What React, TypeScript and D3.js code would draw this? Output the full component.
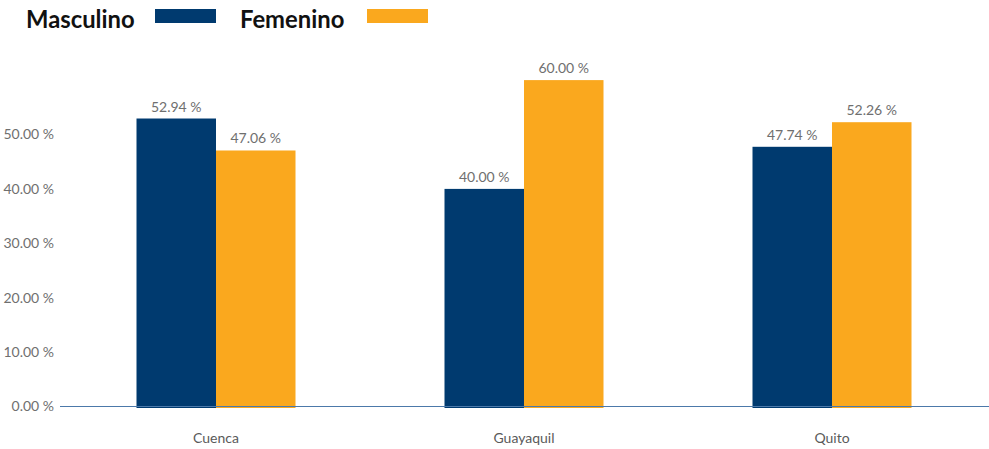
import React from "react";
import * as d3 from "d3";

const categories = ["Cuenca", "Guayaquil", "Quito"];
const series = ["Masculino", "Femenino"];
const masculino = [52.94, 40.0, 47.74];
const femenino = [47.06, 60.0, 52.26];
const yTicks = [0, 10, 20, 30, 40, 50];
const colors = ["#003A6F", "#FAA81E"];

const W = 989;
const H = 449;
const margin = { left: 62, right: 3, top: 40, bottom: 42 };
const y0 = 406.5;

export default function App() {
  const x = d3
    .scaleBand<string>()
    .domain(categories)
    .range([margin.left, W - margin.right])
    .paddingInner(0)
    .paddingOuter(0);
  const y = d3.scaleLinear().domain([0, 50]).range([y0, 134.5]);
  const xs = d3.scaleBand<string>().domain(series).range([0, 159]).padding(0);
  const values = [masculino, femenino];
  const fmt = (v: number) => d3.format(".2f")(v) + " %";
  const font = "Lato, 'Open Sans', sans-serif";

  return (
    <div style={{ position: "absolute", left: 0, top: 0 }}>
      <svg width={W} height={H} style={{ display: "block", background: "#fff" }}>
        {/* legend */}
        <g fontFamily={font} fontWeight={700} fontSize={23.8} fill="#111">
          <text x={26} y={27.5}>{series[0]}</text>
          <rect x={155} y={9} width={61} height={14} fill={colors[0]} />
          <text x={240} y={27.5}>{series[1]}</text>
          <rect x={367} y={9} width={61} height={14} fill={colors[1]} />
        </g>
        {/* y ticks */}
        <g fontFamily={font} fontSize={14} fill="#6f6f6f" textAnchor="end">
          {yTicks.map((t) => (
            <text key={t} x={54} y={y(t)} dy="0.35em">
              {fmt(t)}
            </text>
          ))}
        </g>
        {/* bars */}
        {categories.map((c, i) => {
          const cx = x(c)! + x.bandwidth() / 2;
          const gx = cx - 79.5;
          return (
            <g key={c}>
              {series.map((s, j) => {
                const v = values[j][i];
                const bx = gx + xs(s)!;
                return (
                  <g key={s}>
                    <rect
                      x={bx}
                      y={y(v)}
                      width={xs.bandwidth()}
                      height={y0 + 1.5 - y(v)}
                      fill={colors[j]}
                    />
                    <text
                      x={bx + xs.bandwidth() / 2}
                      y={y(v) - 7}
                      textAnchor="middle"
                      fontFamily={font}
                      fontSize={14}
                      fill="#6f6f6f"
                    >
                      {fmt(v)}
                    </text>
                  </g>
                );
              })}
              <text
                x={cx}
                y={443}
                textAnchor="middle"
                fontFamily={font}
                fontSize={14}
                fill="#5a5a5a"
              >
                {c}
              </text>
            </g>
          );
        })}
        <line x1={60} x2={W} y1={y0} y2={y0} stroke="#4C79AA" strokeWidth={1.2} />
      </svg>
    </div>
  );
}
